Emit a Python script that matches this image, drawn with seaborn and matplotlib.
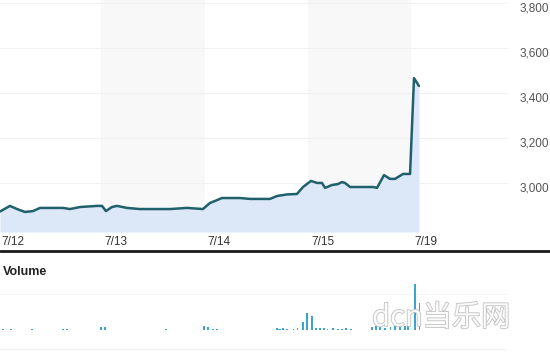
import matplotlib
matplotlib.use("Agg")
import matplotlib.pyplot as plt
import seaborn as sns
import numpy as np
import pandas as pd
from matplotlib.lines import Line2D
import matplotlib.patheffects as pe

# ---- data ----
day_labels = ["7/12", "7/13", "7/14", "7/15", "7/19"]
shaded_days = [1, 3]

# time in trading-day units (0 = start of 7/12)
price_t = [0.019, 0.116, 0.184, 0.261, 0.339, 0.407, 0.503, 0.629, 0.697, 0.794,
           0.958, 1.007, 1.045, 1.103, 1.152, 1.249, 1.375, 1.471, 1.665, 1.829,
           1.984, 2.052, 2.101, 2.168, 2.343, 2.439, 2.633, 2.701, 2.798, 2.894,
           2.953, 3.030, 3.088, 3.136, 3.166, 3.233, 3.291, 3.330, 3.359, 3.408,
           3.533, 3.630, 3.669, 3.737, 3.795, 3.843, 3.921, 3.989, 4.027, 4.075]
price = [2871, 2896, 2882, 2869, 2873, 2887, 2887, 2887, 2882, 2891,
         2896, 2896, 2873, 2891, 2896, 2887, 2882, 2882, 2882, 2887,
         2882, 2909, 2918, 2931, 2931, 2927, 2927, 2940, 2947, 2949,
         2980, 3007, 2998, 2998, 2976, 2989, 2993, 3002, 2998, 2980,
         2980, 2980, 2976, 3033, 3016, 3016, 3038, 3038, 3464, 3429]

vol_t = [0.05, 0.13, 0.33, 0.63, 0.67, 0.997, 1.036, 1.63, 1.994, 2.033, 2.081, 2.12, 2.71,
         2.70, 2.73, 2.76, 2.80, 2.86, 2.90, 2.95, 2.99, 3.04, 3.08, 3.12, 3.16, 3.19,
         3.24, 3.29, 3.33, 3.37, 3.42, 3.62, 3.66, 3.70, 3.75, 3.80, 3.84, 3.89, 3.94,
         3.97, 4.04, 4.08]
volume = [1, 1, 1, 1, 1, 3, 3, 1, 4, 3, 1, 1, 1,
          2, 1, 2, 1, 1, 2, 8, 18, 15, 2, 2, 2, 1,
          2, 1, 1, 2, 1, 3, 4, 3, 2, 3, 4, 4, 4,
          8, 48, 28]

y_ticks = [3000, 3200, 3400, 3600, 3800]

# ---- figure ----
sns.set_style("white")
plt.rcParams["font.family"] = ["Liberation Sans", "DejaVu Sans"]
W, H = 550, 352
fig = plt.figure(figsize=(W / 100, H / 100), dpi=100)

px_per_day = 103.3
x0 = 2 / px_per_day
x1 = (508 + 2) / px_per_day

# main price axes
ax = fig.add_axes([0, (H - 232) / H, 508 / W, 232 / H])
v_per_px = 200 / 45.0
ymax = 3000 + (182.5 - 0) * v_per_px
ymin = 3000 - (232 - 182.5) * v_per_px
ax.set_xlim(x0, x1)
ax.set_ylim(ymin, ymax)

for d in shaded_days:
    ax.axvspan(d, d + 1, color="#f8f8f8", zorder=0, lw=0)
for yv in y_ticks:
    ax.axhline(yv, color="#f0f0f0", lw=0.8, zorder=0.5)

df = pd.DataFrame({"t": price_t, "price": price})
ax.fill_between(df["t"], df["price"], ymin, color="#dce8f8", lw=0, zorder=1)
sns.lineplot(data=df, x="t", y="price", ax=ax, color="#20606c", lw=1.8,
             zorder=3, sort=False)

for s in ax.spines.values():
    s.set_visible(False)
ax.set_xlabel("")
ax.set_ylabel("")
ax.set_xticks([i + 0.03 for i in range(len(day_labels))])
ax.set_xticklabels(day_labels, ha="left", color="#333333", fontsize=8.5)
ax.tick_params(axis="x", length=0, pad=3)
ax.yaxis.tick_right()
ax.set_yticks(y_ticks)
ax.set_yticklabels([f"{v:,}" for v in y_ticks], color="#555555", fontsize=8.5,
                   va="top")
ax.tick_params(axis="y", length=0, pad=8)

# separator line
fig.add_artist(Line2D([0, 1], [(H - 251) / H] * 2, color="#1a1a1a", lw=2))
fig.add_artist(Line2D([0, 505 / W], [(H - 349) / H] * 2, color="#f0f0f0", lw=1))

fig.text(3 / W, (H - 272) / H, "Volume", fontsize=9, fontweight="bold",
         color="#222222", va="center", ha="left")

# volume axes
vax = fig.add_axes([0, (H - 330) / H, 508 / W, 48 / H])
vax.set_xlim(x0, x1)
vax.set_ylim(0, 50)
vax.axhline(38, color="#f5f5f5", lw=0.8, zorder=0)
vdf = pd.DataFrame({"t": vol_t, "v": volume})
vax.bar(vdf["t"], vdf["v"], width=0.018, color="#3aa6cc", lw=0, zorder=2)
vax.set_axis_off()

# watermark
fig.text(372 / W, (H - 318) / H, "dcn当乐网", fontsize=21, color="white",
         family=["Noto Sans CJK SC", "DejaVu Sans"], va="center", ha="left",
         alpha=0.9,
         path_effects=[pe.withStroke(linewidth=1.2, foreground="#bbbbbb")])

fig.savefig("out.png", dpi=100)
